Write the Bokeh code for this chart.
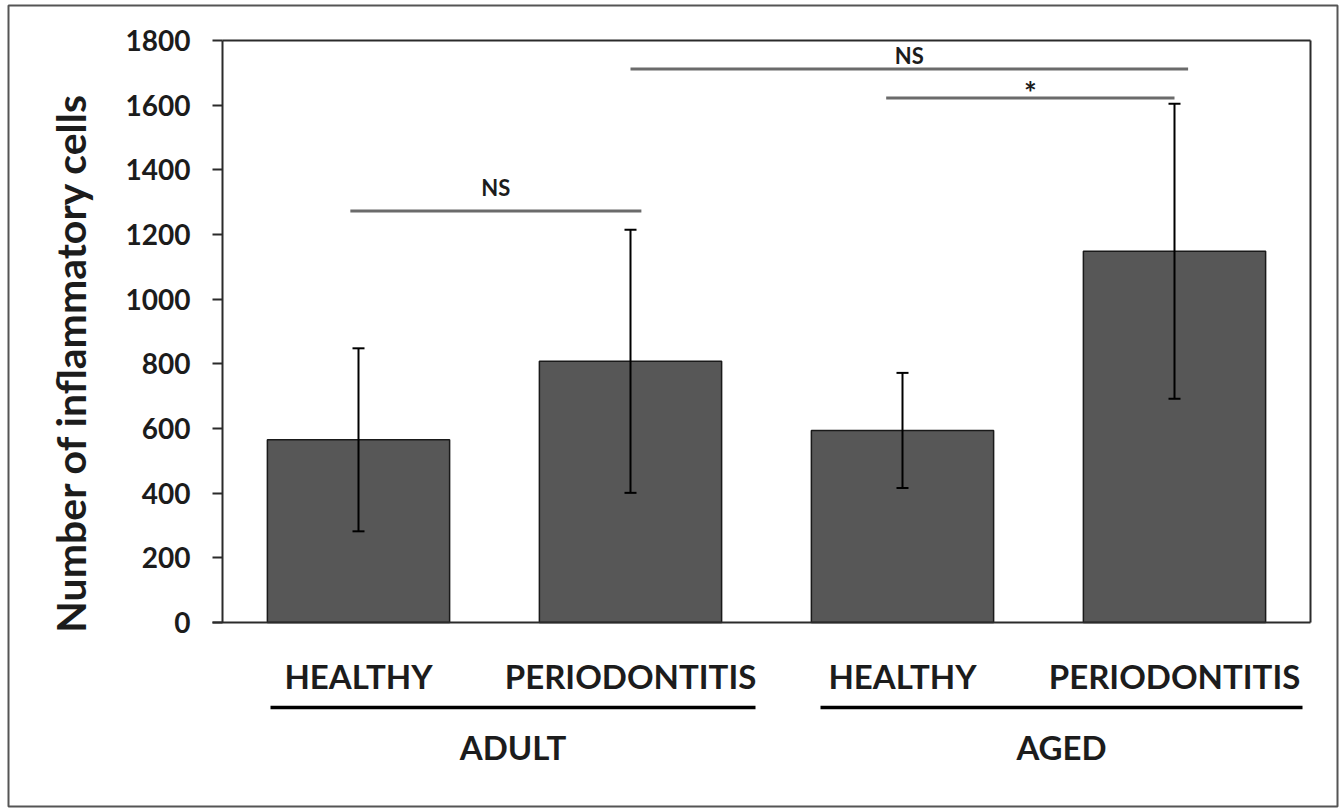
import math

from bokeh.core.properties import value
from bokeh.embed import file_html
from bokeh.models import (ColumnDataSource, FixedTicker, LinearAxis, Range1d,
                          TeeHead, Whisker)
from bokeh.plotting import figure
from bokeh.resources import INLINE

# ---- data -----------------------------------------------------------------
age_groups = ["ADULT", "AGED"]
conditions = ["HEALTHY", "PERIODONTITIS", "HEALTHY", "PERIODONTITIS"]
mean_cells = [565, 808, 594, 1148]
sd_cells = [283, 407, 178, 456]
y_ticks = [0, 200, 400, 600, 800, 1000, 1200, 1400, 1600, 1800]

# significance brackets: span in category units, bar height, label
bracket_left = [0.47, 1.50, 2.44]
bracket_right = [1.54, 3.55, 3.50]
bracket_height = [1273, 1712, 1622]
bracket_label = ["NS", "NS", "*"]
bracket_label_y = [1346, 1755, 1640]
bracket_label_size = ["22px", "22px", "30px"]

# ---- layout ---------------------------------------------------------------
W, H = 1344, 809
BOX_L, BOX_R, BOX_T, BOX_B = 222, 1310, 40, 622   # plot box in pixels
Y_MAX = 1800
N = len(conditions)
ux = (BOX_R - BOX_L) / N        # pixels per category
uy = (BOX_B - BOX_T) / Y_MAX    # pixels per cell


def dx(px):
    return (px - BOX_L) / ux


def dy(py):
    return (BOX_B - py) / uy


FONT = value("Lato")
INK = "#1c1c1c"
LINE = "#2b2b2b"

p = figure(width=W, height=H, output_backend="svg", toolbar_location=None,
           x_axis_type=None, y_axis_type=None,
           x_range=Range1d(dx(0), dx(W)), y_range=Range1d(dy(H), dy(0)),
           min_border=0, outline_line_color=None)
p.grid.visible = False
p.background_fill_color = "white"
p.border_fill_color = "white"

# outer frame around the whole figure
p.quad(left=[dx(8)], right=[dx(1337)], top=[dy(5)], bottom=[dy(806)],
       fill_color=None, line_color="#555555", line_width=2)

# plot box: top and right edges
p.segment(x0=[0, N], y0=[Y_MAX, 0], x1=[N, N], y1=[Y_MAX, Y_MAX],
          line_color=LINE, line_width=2)

# bars
xs = [i + 0.5 for i in range(N)]
src = ColumnDataSource(dict(
    x=xs, mean=mean_cells,
    upper=[m + s for m, s in zip(mean_cells, sd_cells)],
    lower=[m - s for m, s in zip(mean_cells, sd_cells)],
))
p.vbar(x="x", top="mean", bottom=0, width=0.67, source=src,
       fill_color="#575757", line_color="#1a1a1a", line_width=1.5)

# error bars (mean ± SD), drawn over the bars
err = Whisker(source=src, base="x", upper="upper", lower="lower",
              line_color="black", line_width=2, level="overlay",
              upper_head=TeeHead(size=12, line_color="black", line_width=2),
              lower_head=TeeHead(size=12, line_color="black", line_width=2))
p.add_layout(err)

# y axis
yax = LinearAxis(fixed_location=0, bounds=(0, Y_MAX),
                 ticker=FixedTicker(ticks=y_ticks),
                 axis_line_color=LINE, axis_line_width=2,
                 major_tick_line_color=LINE, major_tick_line_width=2,
                 major_tick_in=0, major_tick_out=10,
                 minor_tick_line_color=None,
                 major_label_standoff=22,
                 major_label_text_font="Lato",
                 major_label_text_font_style="bold",
                 major_label_text_font_size="28px",
                 major_label_text_color=INK)
p.add_layout(yax, "left")

# x axis with condition labels
xax = LinearAxis(fixed_location=0, bounds=(dx(212), N),
                 ticker=FixedTicker(ticks=xs),
                 major_label_overrides={x: c for x, c in zip(xs, conditions)},
                 axis_line_color=LINE, axis_line_width=2,
                 major_tick_line_color=None, minor_tick_line_color=None,
                 major_tick_in=0, major_tick_out=0,
                 major_label_standoff=33,
                 major_label_text_font="Lato",
                 major_label_text_font_style="bold",
                 major_label_text_font_size="33px",
                 major_label_text_color=INK)
p.add_layout(xax, "below")

# age group underlines and labels
grp_left = [dx(270), dx(820)]
grp_right = [dx(755), dx(1302)]
p.segment(x0=grp_left, x1=grp_right, y0=[dy(707)] * 2, y1=[dy(707)] * 2,
          line_color="black", line_width=3.5)
p.text(x=[(a + b) / 2 for a, b in zip(grp_left, grp_right)], y=[dy(746)] * 2,
       text=age_groups, text_font=FONT, text_font_style="bold",
       text_font_size="33px", text_color=INK,
       text_align="center", text_baseline="middle")

# y axis title
p.text(x=[dx(70)], y=[dy(362)], text=["Number of inflammatory cells"],
       angle=math.pi / 2, text_font=FONT, text_font_style="bold",
       text_font_size="41px", text_color=INK,
       text_align="center", text_baseline="middle")

# significance brackets
p.segment(x0=bracket_left, x1=bracket_right, y0=bracket_height,
          y1=bracket_height, line_color="#6b6b6b", line_width=3)
p.text(x=[(a + b) / 2 for a, b in zip(bracket_left, bracket_right)],
       y=bracket_label_y, text=bracket_label, text_font=FONT,
       text_font_style="bold", text_font_size=bracket_label_size,
       text_color=INK, text_align="center", text_baseline="alphabetic")

open("out.html", "w").write(file_html(p, INLINE))
